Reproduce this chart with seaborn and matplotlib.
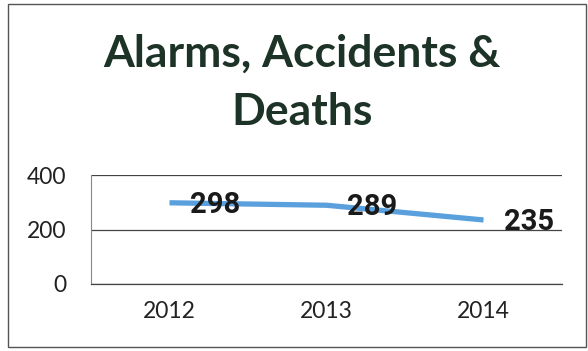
import matplotlib
matplotlib.use("Agg")
import matplotlib.pyplot as plt
import seaborn as sns
import pandas as pd
from matplotlib.patches import Rectangle

years = ["2012", "2013", "2014"]
totals = [298, 289, 235]
y_ticks = [0, 200, 400]

sns.set_style("white")
plt.rcParams["font.family"] = ["Lato", "DejaVu Sans"]

df = pd.DataFrame({"pos": range(len(years)), "total": totals})

fig = plt.figure(figsize=(5.88, 3.51), dpi=100)
ax = fig.add_axes([91 / 588, 1 - 284 / 351, 471 / 588, 109 / 351])

sns.lineplot(data=df, x="pos", y="total", ax=ax, color="#5aa0dc",
             linewidth=3.8, solid_capstyle="butt")

for x, v in zip(df["pos"], df["total"]):
    ax.annotate(str(v), (x, v), xytext=(33, -1.5), textcoords="offset points",
                ha="center", va="center", fontsize=21, fontweight="bold",
                family=["Roboto", "DejaVu Sans"], color="#1a1a1a")

ax.set_xlim(-0.5, len(years) - 0.5)
ax.set_ylim(0, 400)
ax.set_xticks(range(len(years)))
ax.set_xticklabels(years, fontsize=16.5, color="#222222")
ax.set_xticks([i + 0.5 for i in range(len(years))], minor=True)
ax.tick_params(axis="x", which="major", length=0, pad=12)
ax.tick_params(axis="x", which="minor", length=6, color="#444444", width=0.9)
ax.set_yticks(y_ticks)
ax.set_yticklabels([str(t) for t in y_ticks], fontsize=16.5, color="#222222")
ax.tick_params(axis="y", length=4, color="#777777", pad=14)
ax.yaxis.grid(True, color="#444444", linewidth=0.9)
ax.set_axisbelow(True)
ax.set_xlabel("")
ax.set_ylabel("")
for side in ("top", "right"):
    ax.spines[side].set_visible(False)
ax.spines["left"].set_color("#888888")
ax.spines["left"].set_linewidth(0.8)
ax.spines["bottom"].set_color("#444444")
ax.spines["bottom"].set_linewidth(0.9)

fig.text(302 / 588, 1 - 54 / 351, "Alarms, Accidents &", ha="center", va="center",
         fontsize=32, fontweight="bold", color="#1d3327")
fig.text(302 / 588, 1 - 112 / 351, "Deaths", ha="center", va="center",
         fontsize=32, fontweight="bold", color="#1d3327")

fig.patches.append(Rectangle((8 / 588, 4 / 351), 578 / 588, 343 / 351,
                             transform=fig.transFigure, fill=False,
                             edgecolor="#555555", linewidth=1.0))

fig.savefig("out.png", dpi=100)
